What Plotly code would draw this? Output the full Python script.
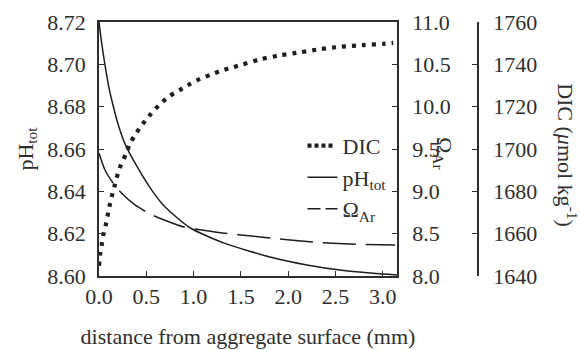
import plotly.graph_objects as go

# Distance from the aggregate surface (mm) and profile values for each quantity
dist_dic = [0.0, 0.011, 0.028, 0.046, 0.071, 0.092, 0.113, 0.141, 0.169, 0.197,
            0.232, 0.282, 0.327, 0.387, 0.462, 0.549, 0.648, 0.749, 0.856, 0.962,
            1.067, 1.175, 1.281, 1.390, 1.497, 1.708, 1.919, 2.131, 2.342, 2.553,
            2.80, 3.01, 3.11]
dic = [1644.8, 1650.0, 1654.6, 1659.4, 1664.1, 1668.8, 1673.5, 1678.6, 1683.3, 1688.0,
       1692.6, 1697.4, 1702.4, 1707.1, 1711.8, 1716.6, 1721.3, 1725.1, 1727.9, 1730.7,
       1733.1, 1735.0, 1736.8, 1738.3, 1739.7, 1742.4, 1744.3, 1745.7, 1747.2, 1748.3,
       1749.1, 1749.7, 1750.1]

dist_ph = [0.0, 0.021, 0.042, 0.063, 0.106, 0.151, 0.201, 0.275, 0.380, 0.557,
           0.697, 0.961, 1.331, 1.838, 2.197, 2.546, 2.895, 3.15]
ph_tot = [8.7200, 8.7124, 8.7058, 8.6998, 8.6888, 8.6802, 8.6718, 8.6624, 8.6534, 8.6406,
          8.6327, 8.6228, 8.6154, 8.6086, 8.6052, 8.6028, 8.6013, 8.6005]

dist_omega = [0.0, 0.063, 0.151, 0.240, 0.380, 0.539, 0.662, 0.908, 1.085, 1.331,
              1.613, 1.838, 2.303, 2.757, 3.13]
omega_ar = [9.449, 9.252, 9.095, 8.977, 8.839, 8.732, 8.673, 8.575, 8.543, 8.504,
            8.472, 8.445, 8.398, 8.374, 8.366]

x_ticks = [0.0, 0.5, 1.0, 1.5, 2.0, 2.5, 3.0]

FONT = "Liberation Serif, Times New Roman, serif"
SIZE = 22
INK = "#2e2e2e"
LINE = "#1e1e1e"

fig = go.Figure()

# Profiles
fig.add_trace(go.Scatter(
    x=dist_dic, y=dic, yaxis="y3", mode="lines", name="DIC", showlegend=False,
    line=dict(color=LINE, width=4.2, dash="4px,6px", shape="spline", smoothing=0.6),
))
fig.add_trace(go.Scatter(
    x=dist_ph, y=ph_tot, yaxis="y", mode="lines", name="pH<sub>tot</sub>",
    legendrank=2,
    line=dict(color=LINE, width=1.5, shape="spline", smoothing=0.6),
))
fig.add_trace(go.Scatter(
    x=dist_omega, y=omega_ar, yaxis="y2", mode="lines", name="Ω<sub>Ar</sub>",
    showlegend=False,
    line=dict(color=LINE, width=1.5, dash="33px,10px", shape="spline", smoothing=0.6),
))

# Legend keys with compact dash patterns
fig.add_trace(go.Scatter(
    x=[None], y=[None], yaxis="y3", mode="lines", name="DIC", legendrank=1,
    line=dict(color=LINE, width=4.2, dash="4px,3px,4px,3px,4px,3px,4px,30px"),
))
fig.add_trace(go.Scatter(
    x=[None], y=[None], yaxis="y2", mode="lines", name="Ω<sub>Ar</sub>", legendrank=3,
    line=dict(color=LINE, width=1.5, dash="13px,5px,13px,30px"),
))

axis_common = dict(
    showgrid=False, zeroline=False, showline=True, linecolor=INK, linewidth=1.5,
    ticks="inside", ticklen=5, tickwidth=1.2, tickcolor=INK, automargin=False,
    tickfont=dict(family=FONT, size=SIZE, color=INK),
)

fig.update_layout(
    width=580, height=350,
    margin=dict(l=99, r=80, t=22, b=74),
    paper_bgcolor="white", plot_bgcolor="white",
    font=dict(family=FONT, size=SIZE, color=INK),
    showlegend=True,
    legend=dict(
        x=0.5075, y=0.595, xanchor="left", yanchor="top",
        bgcolor="rgba(0,0,0,0)", font=dict(family=FONT, size=SIZE, color=INK),
    ),
    xaxis=dict(
        **axis_common, domain=[0, 0.7431], range=[0, 3.15],
        tickvals=x_ticks, tickformat=".1f", mirror=True,
        title=dict(text="distance from aggregate surface (mm)", standoff=20,
                   font=dict(family=FONT, size=SIZE, color=INK)),
    ),
    yaxis=dict(
        **axis_common, range=[8.60, 8.72], dtick=0.02, tickformat=".2f",
        ticklabelstandoff=7,
        title=dict(text="pH<sub>tot</sub>", standoff=8,
                   font=dict(family=FONT, size=SIZE, color=INK)),
    ),
    yaxis2=dict(
        **axis_common, range=[8.0, 11.0], dtick=0.5, tickformat=".1f",
        overlaying="y", side="right", anchor="x", ticklabelstandoff=9,
    ),
    yaxis3=dict(
        **axis_common, range=[1640, 1760], dtick=20,
        overlaying="y", side="right", anchor="free", position=0.9451,
        ticklabelstandoff=10,
    ),
)

# Right-hand axis titles read top to bottom
fig.add_annotation(
    text="Ω<sub>Ar</sub>", xref="paper", yref="paper", x=0.858, y=0.484,
    xanchor="center", yanchor="middle",
    showarrow=False, textangle=90, font=dict(family=FONT, size=SIZE, color=INK),
)
fig.add_annotation(
    text="DIC (<i>μ</i>mol kg<sup>-1</sup>)", xref="paper", yref="paper",
    x=1.167, y=0.476, xanchor="center", yanchor="middle",
    showarrow=False, textangle=90, font=dict(family=FONT, size=SIZE, color=INK),
)

fig.write_html("out.html")
